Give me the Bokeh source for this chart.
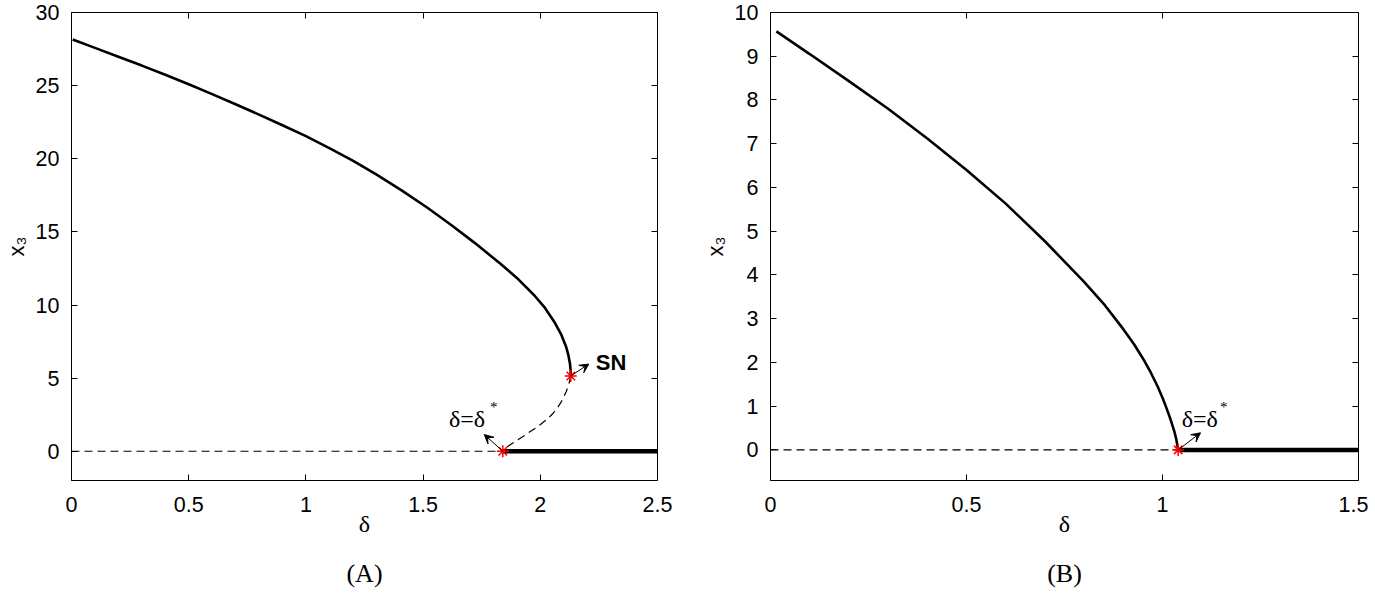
from bokeh.plotting import figure
from bokeh.layouts import row
from bokeh.models import Range1d, FixedTicker, LinearAxis, Label, Arrow, VeeHead
from bokeh.embed import file_html
from bokeh.resources import INLINE

# ---------------- Panel (A) data ----------------
a_stable_delta = [0.005, 0.1, 0.2, 0.3, 0.4, 0.5, 0.6, 0.7, 0.8, 0.9, 1.0, 1.1, 1.2, 1.3, 1.41,
                  1.52, 1.62, 1.72, 1.83, 1.9, 1.975, 2.02, 2.06, 2.09, 2.11, 2.12, 2.1265, 2.129, 2.13]
a_stable_x3 = [28.15, 27.58, 26.98, 26.37, 25.74, 25.09, 24.42, 23.73, 23.02, 22.29, 21.55, 20.73, 19.87,
               18.93, 17.82, 16.63, 15.47, 14.25, 12.82, 11.85, 10.65, 9.80, 8.84, 7.95, 7.15, 6.55, 6.0, 5.6, 5.15]
a_unstable_delta = [2.13, 2.122, 2.11, 2.094, 2.074, 2.055, 2.03, 1.989, 1.94, 1.89, 1.865, 1.84]
a_unstable_x3 = [5.15, 4.60, 4.05, 3.50, 2.99, 2.60, 2.20, 1.68, 1.16, 0.63, 0.38, 0.0]
a_trivial_unstable_delta = [0.0, 1.84]
a_trivial_stable_delta = [1.84, 2.5]
a_trivial_x3 = [0.0, 0.0]
a_special_delta = [2.13, 1.84]   # SN, delta = delta*
a_special_x3 = [5.15, 0.0]
a_xticks = [0, 0.5, 1, 1.5, 2, 2.5]
a_xtick_labels = ["0", "0.5", "1", "1.5", "2", "2.5"]
a_yticks = [0, 5, 10, 15, 20, 25, 30]
a_ytick_labels = ["0", "5", "10", "15", "20", "25", "30"]

# ---------------- Panel (B) data ----------------
b_stable_delta = [0.015, 0.1, 0.2, 0.3, 0.4, 0.5, 0.6, 0.7, 0.8, 0.85, 0.9, 0.927, 0.95, 0.97,
                  0.987, 1.0, 1.01, 1.02, 1.03, 1.035, 1.04]
b_stable_x3 = [9.57, 9.05, 8.43, 7.80, 7.12, 6.40, 5.63, 4.77, 3.84, 3.34, 2.76, 2.42, 2.09, 1.77,
               1.46, 1.19, 0.96, 0.71, 0.43, 0.25, 0.0]
b_trivial_unstable_delta = [0.0, 1.04]
b_trivial_stable_delta = [1.04, 1.5]
b_trivial_x3 = [0.0, 0.0]
b_special_delta = [1.04]
b_special_x3 = [0.0]
b_xticks = [0, 0.5, 1, 1.5]
b_xtick_labels = ["0", "0.5", "1", "1.5"]
b_yticks = [0, 1, 2, 3, 4, 5, 6, 7, 8, 9, 10]
b_ytick_labels = [str(v) for v in b_yticks]

SANS = "Liberation Sans"
SERIF = "Liberation Serif"
DASH = "8 5"


def make_fig(xr, yr, xticks, xlabels, yticks, ylabels, width, bl, br, caption):
    p = figure(width=width, height=593, x_range=Range1d(*xr), y_range=Range1d(*yr),
               output_backend="svg", toolbar_location=None,
               min_border_left=bl, min_border_right=br, min_border_top=12, min_border_bottom=113)
    p.grid.visible = False
    p.background_fill_color = "white"
    p.border_fill_color = "white"
    p.outline_line_color = "black"
    p.outline_line_width = 1
    for ax, ticks, labels in ((p.xaxis[0], xticks, xlabels), (p.yaxis[0], yticks, ylabels)):
        ax.ticker = FixedTicker(ticks=ticks)
        ax.major_label_overrides = {t: l for t, l in zip(ticks, labels)}
        ax.major_tick_in = 6
        ax.major_tick_out = 0
        ax.minor_tick_line_color = None
        ax.axis_line_color = None
        ax.major_tick_line_color = "black"
        ax.major_label_text_font = SANS
        ax.major_label_text_font_size = "21.5px"
        ax.major_label_text_color = "black"
        ax.axis_label_text_color = "black"
        ax.axis_label_text_font_style = "normal"
    p.xaxis[0].major_label_standoff = 16
    p.yaxis[0].major_label_standoff = 12
    p.xaxis[0].axis_label = "δ"
    p.xaxis[0].axis_label_text_font = SERIF
    p.xaxis[0].axis_label_text_font_size = "24px"
    p.xaxis[0].axis_label_standoff = -4
    p.yaxis[0].axis_label = "x₃"
    p.yaxis[0].axis_label_text_font = SANS
    p.yaxis[0].axis_label_text_font_size = "22px"
    p.yaxis[0].axis_label_standoff = 4
    # mirrored ticks on top and right
    top = LinearAxis(ticker=FixedTicker(ticks=xticks),
                     major_label_overrides={t: "" for t in xticks},
                     major_label_text_font_size="0px", major_label_standoff=0,
                     major_tick_in=6, major_tick_out=0, minor_tick_line_color=None,
                     axis_line_color=None)
    right = LinearAxis(ticker=FixedTicker(ticks=yticks),
                       major_label_overrides={t: "" for t in yticks},
                       major_label_text_font_size="0px", major_label_standoff=0,
                       major_tick_in=6, major_tick_out=0, minor_tick_line_color=None,
                       axis_line_color=None)
    p.add_layout(top, "above")
    p.add_layout(right, "right")
    # panel caption, carried by a tick-less axis below the delta axis
    cap = LinearAxis(ticker=FixedTicker(ticks=[]), axis_label=caption,
                     axis_label_text_font=SERIF, axis_label_text_font_size="26px",
                     axis_label_text_font_style="normal", axis_label_text_color="black",
                     axis_label_standoff=19, major_label_text_font_size="0px",
                     major_label_standoff=0, major_tick_in=0, major_tick_out=0,
                     major_tick_line_color=None, minor_tick_line_color=None,
                     axis_line_color=None)
    p.add_layout(cap, "below")
    return p


# ---------------- Panel (A) ----------------
pa = make_fig((0, 2.5), (-2, 30), a_xticks, a_xtick_labels, a_yticks, a_ytick_labels, 677, 68, 20, "(A)")
pa.line(a_trivial_unstable_delta, a_trivial_x3, line_color="black", line_width=1.2, line_dash=DASH)
pa.line(a_trivial_stable_delta, a_trivial_x3, line_color="black", line_width=4.5)
pa.line(a_stable_delta, a_stable_x3, line_color="black", line_width=2.6)
pa.line(a_unstable_delta, a_unstable_x3, line_color="black", line_width=1.2, line_dash=DASH)
pa.add_layout(Arrow(end=VeeHead(size=9, fill_color="black", line_color="black"),
                    x_start=a_special_delta[0], y_start=a_special_x3[0], x_end=2.207, y_end=5.96,
                    line_color="black", line_width=1))
pa.add_layout(Arrow(end=VeeHead(size=9, fill_color="black", line_color="black"),
                    x_start=a_special_delta[1], y_start=a_special_x3[1], x_end=1.761, y_end=1.14,
                    line_color="black", line_width=1))
pa.scatter(a_special_delta, a_special_x3, marker="asterisk", size=12, line_color="red", line_width=1.5)
pa.add_layout(Label(x=2.237, y=6.04, text="SN", text_font=SANS, text_font_size="22px",
                    text_font_style="bold", text_baseline="middle", text_align="left", text_color="black"))
pa.add_layout(Label(x=1.610, y=2.20, text="δ=δ", text_font=SERIF, text_font_size="24px",
                    text_baseline="middle", text_align="left", text_color="black"))
pa.add_layout(Label(x=1.785, y=3.02, text="*", text_font=SERIF, text_font_size="15px",
                    text_baseline="middle", text_align="left", text_color="black"))

# ---------------- Panel (B) ----------------
pb = make_fig((0, 1.5), (-0.7, 10), b_xticks, b_xtick_labels, b_yticks, b_ytick_labels, 691, 93, 10, "(B)")
pb.line(b_trivial_unstable_delta, b_trivial_x3, line_color="black", line_width=1.2, line_dash=DASH)
pb.line(b_trivial_stable_delta, b_trivial_x3, line_color="black", line_width=4.5)
pb.line(b_stable_delta, b_stable_x3, line_color="black", line_width=2.6)
pb.add_layout(Arrow(end=VeeHead(size=9, fill_color="black", line_color="black"),
                    x_start=b_special_delta[0], y_start=b_special_x3[0], x_end=1.097, y_end=0.39,
                    line_color="black", line_width=1))
pb.scatter(b_special_delta, b_special_x3, marker="asterisk", size=12, line_color="red", line_width=1.5)
pb.add_layout(Label(x=1.049, y=0.70, text="δ=δ", text_font=SERIF, text_font_size="24px",
                    text_baseline="middle", text_align="left", text_color="black"))
pb.add_layout(Label(x=1.147, y=0.98, text="*", text_font=SERIF, text_font_size="15px",
                    text_baseline="middle", text_align="left", text_color="black"))

layout = row(pa, pb)
open("out.html", "w").write(file_html(layout, INLINE))
